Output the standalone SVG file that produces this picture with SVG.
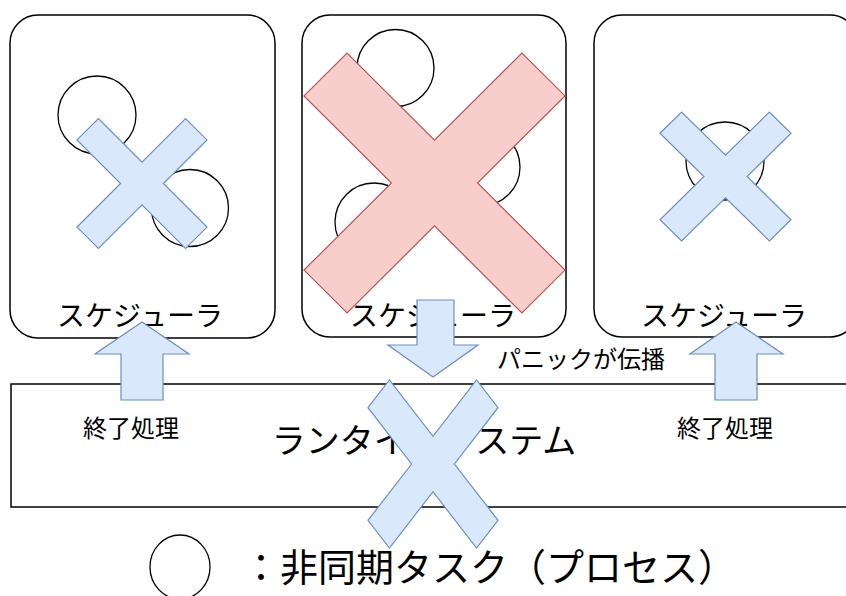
<svg xmlns="http://www.w3.org/2000/svg" width="846" height="596" viewBox="0 0 846 596">
<style>
.box{fill:#fff;stroke:#000;stroke-width:1.5}
.task{fill:none;stroke:#000;stroke-width:1.3}
.xb{fill:#dae8fc;stroke:#6c8ebf;stroke-width:1.2}
.xr{fill:#f8cecc;stroke:#b85450;stroke-width:1.2}
.arr{fill:#dae8fc;stroke:#6c8ebf;stroke-width:1.2}
text{font-family:"Noto Sans CJK JP","Noto Sans",sans-serif;fill:#000}
.t28{font-size:28px;text-anchor:middle}
.t24{font-size:24px;text-anchor:middle}
.t34{font-size:34px;text-anchor:middle}
.t38{font-size:38px;text-anchor:middle}
</style>
<defs>
<polygon id="xshape" points="-100,-67 -67,-100 0,-33 67,-100 100,-67 33,0 100,67 67,100 0,33 -67,100 -100,67 -33,0" vector-effect="non-scaling-stroke"/>
</defs>
<g id="runtime">
<rect class="box" x="11" y="384" width="845" height="123"/>
<text class="t34" x="424" y="453">ランタイムシステム</text>
</g>
<g id="scheduler1">
<rect class="box" x="10" y="15" width="265" height="323" rx="28"/>
<circle class="task" cx="97" cy="115" r="39"/>
<circle class="task" cx="190" cy="208" r="38.5"/>
<text class="t28" x="140" y="326">スケジューラ</text>
</g>
<g id="scheduler2">
<rect class="box" x="302" y="15" width="264" height="322" rx="28"/>
<circle class="task" cx="395.5" cy="68" r="38.5"/>
<circle class="task" cx="481" cy="167" r="39"/>
<circle class="task" cx="374" cy="222" r="39"/>
<text class="t28" x="433" y="326">スケジューラ</text>
</g>
<g id="scheduler3">
<rect class="box" x="594" y="15" width="264" height="322" rx="28"/>
<circle class="task" cx="725" cy="161" r="39"/>
<text class="t28" x="724" y="326">スケジューラ</text>
</g>
<g id="crosses">
<use href="#xshape" class="xb" transform="translate(142,183.5) scale(0.65)"/>
<use href="#xshape" class="xr" transform="translate(434.5,183) scale(1.305,1.3)"/>
<use href="#xshape" class="xb" transform="translate(725.5,176.5) scale(0.655,0.645)"/>
</g>
<g id="connectors">
<polygon class="arr" points="142,322 189,354 163,354 163,400 121,400 121,354 95,354"/>
<polygon class="arr" points="736,322 783,354 757,354 757,400 715,400 715,354 690,354"/>
<polygon class="arr" points="417,300 454,300 454,345 478,345 433,377 388,345 417,345"/>
</g>
<g id="runtime-cross">
<use href="#xshape" class="xb" transform="translate(433,464) scale(0.65,0.84)"/>
</g>
<g id="labels">
<text class="t24" x="131" y="437">終了処理</text>
<text class="t24" x="725" y="437">終了処理</text>
<text class="t24" x="581" y="368">パニックが伝播</text>
</g>
<g id="legend">
<ellipse class="task" cx="180" cy="567" rx="30" ry="32"/>
<text class="t38" x="489" y="581">：非同期タスク（プロセス）</text>
</g>
</svg>
